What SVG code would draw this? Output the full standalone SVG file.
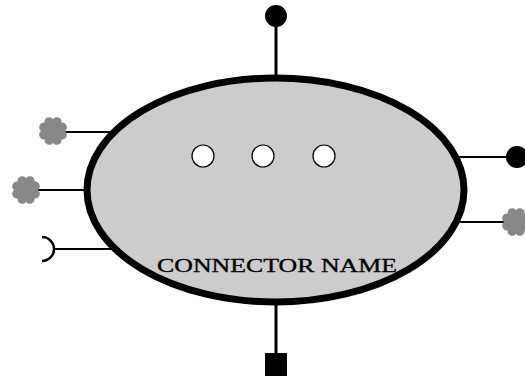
<svg xmlns="http://www.w3.org/2000/svg" width="525" height="378" viewBox="0 0 525 378">
<style>
.wire{stroke:#000;stroke-width:2;fill:none}
.vwire{stroke:#000;stroke-width:3;fill:none}
.cloud{fill:#888888}
.hole{fill:#fff;stroke:#000;stroke-width:1.2}
.lbl{font-family:"Liberation Serif","DejaVu Serif",serif;font-size:18px;fill:#000;stroke:#000;stroke-width:0.3}
</style>
<defs>
<path id="flower" d="M12,0 A4.8,4.8 0 0 1 8.49,8.49 A4.8,4.8 0 0 1 0,12 A4.8,4.8 0 0 1 -8.49,8.49 A4.8,4.8 0 0 1 -12,0 A4.8,4.8 0 0 1 -8.49,-8.49 A4.8,4.8 0 0 1 0,-12 A4.8,4.8 0 0 1 8.49,-8.49 A4.8,4.8 0 0 1 12,0 Z"/>
</defs>
<g id="connectors">
<line class="vwire" x1="276" y1="16" x2="276" y2="90"/>
<line class="vwire" x1="276" y1="290" x2="276" y2="364"/>
<line class="wire" x1="60" y1="132" x2="120" y2="132"/>
<line class="wire" x1="30" y1="190" x2="95" y2="190"/>
<line class="wire" x1="54" y1="249" x2="120" y2="249"/>
<line class="wire" x1="450" y1="157" x2="515" y2="157"/>
<line class="wire" x1="450" y1="222" x2="510" y2="222"/>
</g>
<g id="connector-body">
<ellipse cx="275.5" cy="190" rx="188.5" ry="112" fill="#cccccc" stroke="#000" stroke-width="7"/>
<circle class="hole" cx="203" cy="156" r="11"/>
<circle class="hole" cx="263" cy="156" r="11"/>
<circle class="hole" cx="324" cy="156" r="11"/>
<text class="lbl" x="157" y="272" textLength="240" lengthAdjust="spacingAndGlyphs">CONNECTOR NAME</text>
</g>
<g id="pin-top"><circle cx="276" cy="16" r="11" fill="#000"/></g>
<g id="pin-bottom"><rect x="265" y="353" width="22" height="23" fill="#000"/></g>
<g id="pin-left-1"><use href="#flower" class="cloud" transform="translate(53,131)"/></g>
<g id="pin-left-2"><use href="#flower" class="cloud" transform="translate(26,190)"/></g>
<g id="pin-left-3"><path d="M42,237 A12,12 0 0 1 42,261" fill="none" stroke="#000" stroke-width="2.5"/></g>
<g id="pin-right-1"><circle cx="517" cy="157" r="11" fill="#000"/></g>
<g id="pin-right-2"><use href="#flower" class="cloud" transform="translate(516,222)"/></g>
</svg>
